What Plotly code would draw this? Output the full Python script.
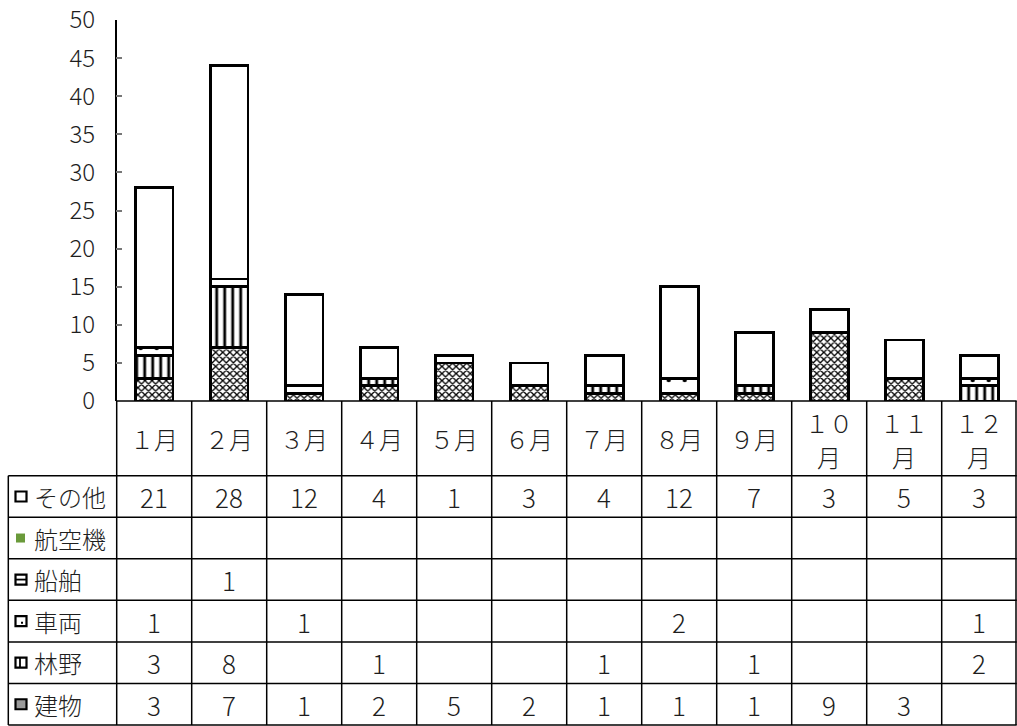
import plotly.graph_objects as go

months = ["1月", "2月", "3月", "4月", "5月", "6月", "7月", "8月", "9月", "10月", "11月", "12月"]
month_labels = ["１月", "２月", "３月", "４月", "５月", "６月", "７月", "８月", "９月", "１０<br>月", "１１<br>月", "１２<br>月"]

series_names = ["建物", "林野", "車両", "船舶", "航空機", "その他"]
tatemono = [3, 7, 1, 2, 5, 2, 1, 1, 1, 9, 3, None]
rinya = [3, 8, None, 1, None, None, 1, None, 1, None, None, 2]
sharyo = [1, None, 1, None, None, None, None, 2, None, None, None, 1]
senpaku = [None, 1, None, None, None, None, None, None, None, None, None, None]
kokuki = [None] * 12
sonota = [21, 28, 12, 4, 1, 3, 4, 12, 7, 3, 5, 3]

y_ticks = [0, 5, 10, 15, 20, 25, 30, 35, 40, 45, 50]

W, H = 1017, 726
def px(x):
    return x / W
def py(y):
    return 1 - y / H

FONT = "Noto Sans CJK JP"
TXT = "#1e1e1e"
WT = 300

patterns = {
    "建物": dict(shape="x", size=5, solidity=0.45, fgcolor="black", bgcolor="white"),
    "林野": dict(shape="|", size=8, solidity=0.35, fgcolor="black", bgcolor="white"),
    "車両": dict(shape=".", size=16, solidity=0.06, fgcolor="black", bgcolor="white"),
    "船舶": dict(shape="", fgcolor="black", bgcolor="white"),
    "航空機": dict(shape="", fgcolor="#6a9a3a", bgcolor="#6a9a3a"),
    "その他": dict(shape="", fgcolor="black", bgcolor="white"),
}
values = {"建物": tatemono, "林野": rinya, "車両": sharyo, "船舶": senpaku, "航空機": kokuki, "その他": sonota}

fig = go.Figure()
for name in series_names:
    fill = "#6a9a3a" if name == "航空機" else "white"
    fig.add_trace(go.Bar(
        x=months, y=values[name], name=name, width=0.5,
        marker=dict(color=fill, line=dict(color="black", width=2.8), pattern=patterns[name]),
        showlegend=False,
    ))

x0, x1 = 116.7, 1016.7
y_top, y_zero = 20, 401
fig.update_layout(
    template="none",
    width=W, height=H, margin=dict(l=0, r=0, t=0, b=0, pad=0),
    paper_bgcolor="white", plot_bgcolor="white", barmode="stack",
    font=dict(family=FONT, color=TXT),
    xaxis=dict(domain=[px(x0), 1.0], range=[-0.5, 11.5], showticklabels=False, automargin=False,
               showgrid=False, zeroline=False, showline=False, ticks=""),
    yaxis=dict(domain=[py(y_zero), py(y_top)], range=[0, 50], tickvals=y_ticks, automargin=False,
               showgrid=False, zeroline=False, showline=True, linecolor="black", linewidth=1.5,
               ticks="inside", ticklen=6, tickcolor="#777777", tickwidth=1.5,
               tickfont=dict(size=24, color=TXT, family=FONT, weight=WT), ticklabelstandoff=15),
)

shapes = []
LC = "black"
LW = 1.5
row_top = 475.7
row_h = 41.55
rows_y = [row_top + i * row_h for i in range(7)]
shapes.append(dict(type="line", xref="paper", yref="paper", x0=px(x0), x1=px(x1), y0=py(y_zero), y1=py(y_zero), line=dict(color=LC, width=LW)))
for yy in rows_y:
    shapes.append(dict(type="line", xref="paper", yref="paper", x0=px(8.3), x1=px(x1), y0=py(yy), y1=py(yy), line=dict(color=LC, width=LW)))
shapes.append(dict(type="line", xref="paper", yref="paper", x0=px(8.3), x1=px(8.3), y0=py(row_top), y1=py(rows_y[-1]), line=dict(color=LC, width=LW)))
for i in range(13):
    xx = x0 + 75 * i
    if xx > 1016:
        xx = 1016
    shapes.append(dict(type="line", xref="paper", yref="paper", x0=px(xx), x1=px(xx), y0=py(y_zero), y1=py(rows_y[-1]), line=dict(color=LC, width=LW)))

annotations = []
for i, lab in enumerate(month_labels):
    parts = lab.split("<br>")
    if len(parts) == 1:
        ys = [439]
    else:
        ys = [422, 456]
    for part, yy in zip(parts, ys):
        annotations.append(dict(x=months[i], xref="x", y=py(yy), yref="paper", text=part, showarrow=False,
                                font=dict(size=24, family=FONT, color=TXT, weight=WT), xanchor="center", yanchor="middle"))

table_order = ["その他", "航空機", "船舶", "車両", "林野", "建物"]
for r, name in enumerate(table_order):
    cy = row_top + row_h * (r + 0.5)
    annotations.append(dict(x=px(32), xref="paper", y=py(cy), yref="paper", text=name, showarrow=False,
                            font=dict(size=24, family=FONT, color=TXT, weight=WT), xanchor="left", yanchor="middle"))
    for i, v in enumerate(values[name]):
        if v is not None:
            annotations.append(dict(x=months[i], xref="x", y=py(cy), yref="paper", text=str(v), showarrow=False,
                                    font=dict(size=26, family=FONT, color=TXT, weight=WT), xanchor="center", yanchor="middle"))
    ix0, ix1 = 15.5, 26.5
    iy0, iy1 = cy - 5, cy + 5
    if name == "航空機":
        shapes.append(dict(type="rect", xref="paper", yref="paper", x0=px(16), x1=px(25), y0=py(cy - 4.5), y1=py(cy + 4.5),
                           line=dict(width=0), fillcolor="#6a9a3a"))
        continue
    fillc = "#9a9a9a" if name == "建物" else "white"
    shapes.append(dict(type="rect", xref="paper", yref="paper", x0=px(ix0), x1=px(ix1), y0=py(iy0), y1=py(iy1),
                       line=dict(color="black", width=2.2), fillcolor=fillc))
    if name == "船舶":
        shapes.append(dict(type="line", xref="paper", yref="paper", x0=px(ix0), x1=px(ix1), y0=py(cy), y1=py(cy), line=dict(color="black", width=1.8)))
    elif name == "林野":
        shapes.append(dict(type="line", xref="paper", yref="paper", x0=px(20), x1=px(20), y0=py(iy0), y1=py(iy1), line=dict(color="black", width=1.8)))
    elif name == "車両":
        shapes.append(dict(type="rect", xref="paper", yref="paper", x0=px(21), x1=px(23), y0=py(cy + 0.5), y1=py(cy + 2.5), line=dict(width=0), fillcolor="black"))

fig.update_layout(shapes=shapes, annotations=annotations)
fig.write_html("out.html", config={"displayModeBar": False},
               post_script="document.body.style.margin='0';document.body.style.overflow='hidden';")
